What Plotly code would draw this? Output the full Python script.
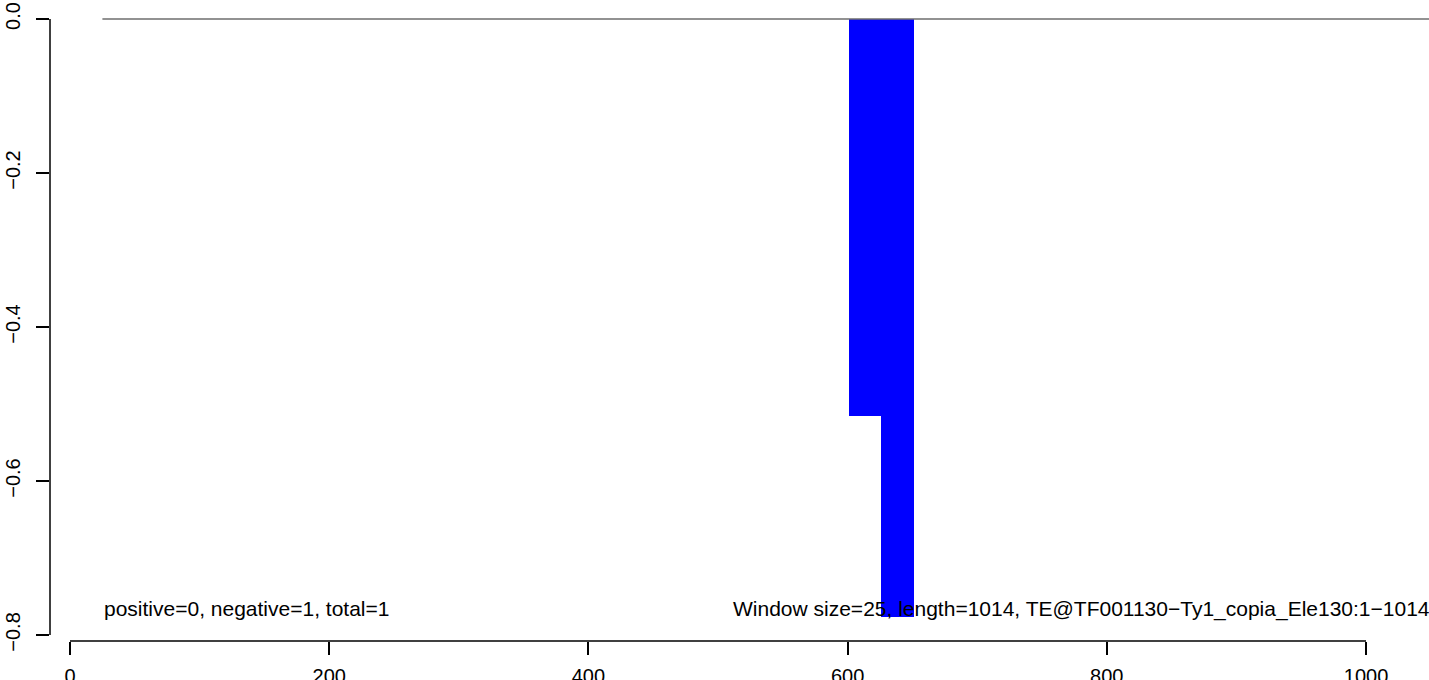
import plotly.graph_objects as go

# Data
window_start = [601, 626]
window_size = 25
bar_values = [-0.516, -0.776]
baseline_x = [25, 1100]
baseline_y = [0, 0]
x_ticks = [0, 200, 400, 600, 800, 1000]
y_ticks = [-0.8, -0.6, -0.4, -0.2, 0.0]
y_tick_labels = ["\u22120.8", "\u22120.6", "\u22120.4", "\u22120.2", "0.0"]
left_text = "positive=0, negative=1, total=1"
right_text = "Window size=25, length=1014, TE@TF001130\u2212Ty1_copia_Ele130:1\u22121014"

bar_centers = [s + window_size / 2 for s in window_start]

FONT = "Liberation Sans, Arial, Helvetica, sans-serif"

fig = go.Figure()
fig.add_trace(go.Scatter(x=baseline_x, y=baseline_y, mode="lines",
                         line=dict(color="#6e6e6e", width=1.5),
                         hoverinfo="skip", showlegend=False))
fig.add_trace(go.Bar(x=bar_centers, y=bar_values, base=0, width=window_size,
                     marker=dict(color="#0000ff", line=dict(width=0)),
                     showlegend=False))

fig.add_annotation(x=25, y=-0.766, xref="x", yref="y", text=left_text,
                   showarrow=False, xanchor="left", yanchor="middle",
                   font=dict(family=FONT, size=21, color="black"))
fig.add_annotation(x=1.002, y=-0.766, xref="paper", yref="y", text=right_text,
                   showarrow=False, xanchor="right", yanchor="middle",
                   font=dict(family=FONT, size=21, color="black"))

# axis lines spanning first to last tick (R style)
fig.add_shape(type="line", xref="x", yref="paper", x0=x_ticks[0], x1=x_ticks[-1],
              y0=0, y1=0, line=dict(color="black", width=1.5))
fig.add_shape(type="line", xref="paper", yref="y", x0=0, x1=0,
              y0=y_ticks[0], y1=y_ticks[-1], line=dict(color="black", width=1.5))

fig.update_layout(
    width=1429, height=680,
    margin=dict(l=50, r=0, t=0, b=39, autoexpand=False),
    plot_bgcolor="white", paper_bgcolor="white",
    font=dict(family=FONT, size=20, color="black"),
    bargap=0,
    xaxis=dict(range=[-15.43, 1048.6], tickvals=x_ticks, automargin=False,
               ticks="outside", ticklen=13, tickwidth=1.5, tickcolor="black",
               showgrid=False, zeroline=False, showline=False,
               ticklabelstandoff=4, tickfont=dict(size=20)),
    yaxis=dict(range=[-0.8078, 0.02468], tickvals=y_ticks, ticktext=y_tick_labels,
               automargin=False,
               ticks="outside", ticklen=13, tickwidth=1.5, tickcolor="black",
               showgrid=False, zeroline=False, showline=False,
               tickangle=-90, ticklabelstandoff=8, tickfont=dict(size=20)),
)

fig.write_html("out.html", config={"displayModeBar": False},
               post_script="document.body.style.margin='0px';document.body.style.overflow='hidden';")
